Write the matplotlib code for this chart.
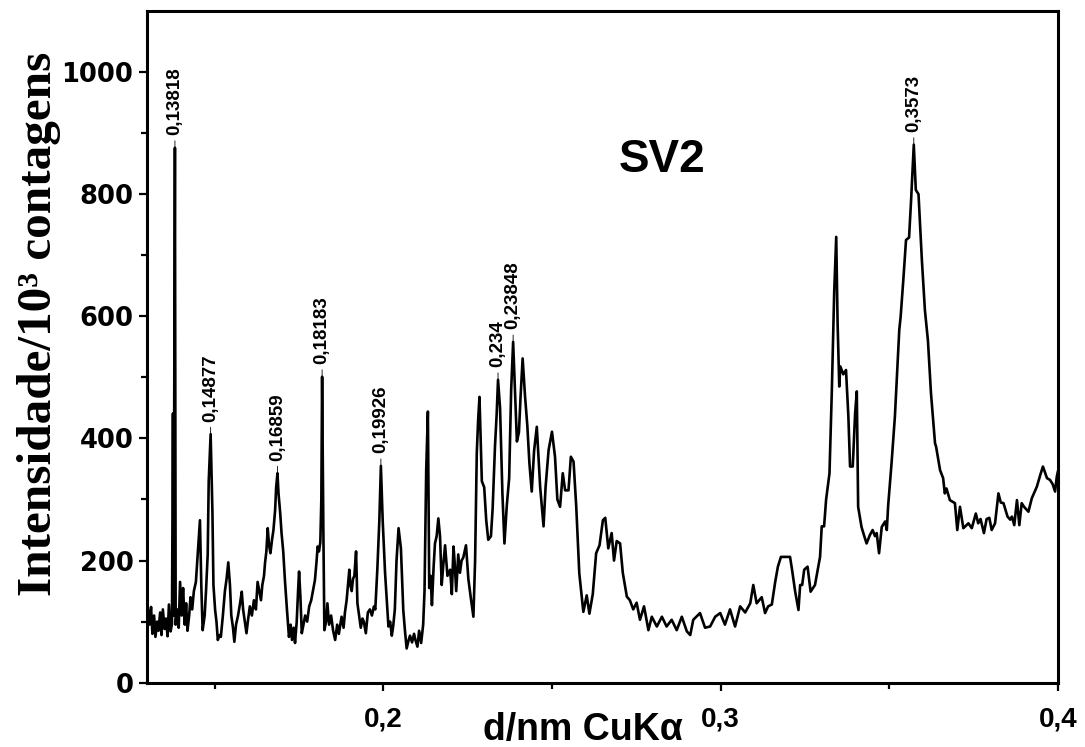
import matplotlib
matplotlib.use('Agg')
import matplotlib.pyplot as plt
import matplotlib.ticker as ticker
import numpy as np

# interplanar spacing (nm) and intensity (10^3 counts)
d_nm = [0.1302, 0.1306, 0.1311, 0.1315, 0.1320, 0.1324, 0.1329, 0.1333, 0.1338, 0.1342,
        0.1346, 0.1351, 0.1355, 0.1360, 0.1364, 0.1369, 0.1373, 0.1376, 0.1378, 0.13818,
        0.1384, 0.1388, 0.1393, 0.1397, 0.1402, 0.1406, 0.1411, 0.1415, 0.1419, 0.1424,
        0.1428, 0.1433, 0.1438, 0.1444, 0.1450, 0.1456, 0.1460, 0.1464, 0.1470, 0.1474,
        0.1479, 0.1482, 0.14877, 0.1493, 0.1496, 0.1501, 0.1505, 0.1509, 0.1514, 0.1518,
        0.1524, 0.1530, 0.1535, 0.1540, 0.1545, 0.1549, 0.1554, 0.1558, 0.1563, 0.1569,
        0.1575, 0.1580, 0.1584, 0.1589, 0.1594, 0.1598, 0.1604, 0.1610, 0.1616, 0.1622,
        0.1627, 0.1632, 0.1637, 0.1641, 0.1646, 0.1649, 0.1653, 0.1657, 0.1661, 0.1665,
        0.1670, 0.1674, 0.1679, 0.1682, 0.16859, 0.1689, 0.1694, 0.1698, 0.1703, 0.1708,
        0.1714, 0.1720, 0.1725, 0.1729, 0.1734, 0.1738, 0.1743, 0.1747, 0.1750, 0.1754,
        0.1758, 0.1763, 0.1768, 0.1774, 0.1780, 0.1786, 0.1791, 0.1797, 0.1802, 0.1805,
        0.1809, 0.1813, 0.1816, 0.18183, 0.1822, 0.1825, 0.1830, 0.1834, 0.1839, 0.1845,
        0.1851, 0.1857, 0.1863, 0.1868, 0.1876, 0.1882, 0.1886, 0.1891, 0.1895, 0.1899,
        0.1902, 0.1906, 0.1910, 0.1914, 0.1919, 0.1923, 0.1928, 0.1933, 0.1938, 0.1942,
        0.1948, 0.1954, 0.1960, 0.1966, 0.1972, 0.1976, 0.1982, 0.1988, 0.19926, 0.1998,
        0.2005, 0.2015, 0.2020, 0.2025, 0.2029, 0.2034, 0.2039, 0.2045, 0.2052, 0.2059,
        0.2064, 0.2069, 0.2075, 0.2079, 0.2085, 0.2091, 0.2095, 0.2101, 0.2106, 0.2112,
        0.2118, 0.2122, 0.2127, 0.2132, 0.2136, 0.2140, 0.2144, 0.2149, 0.2153, 0.2158,
        0.2163, 0.2168, 0.2173, 0.2178, 0.2183, 0.2190, 0.2198, 0.2203, 0.2208, 0.2211,
        0.2216, 0.2222, 0.2227, 0.2232, 0.2237, 0.2245, 0.2252, 0.2259, 0.2267, 0.2272,
        0.2277, 0.2281, 0.2285, 0.2292, 0.2299, 0.2305, 0.2311, 0.2319, 0.2324, 0.2331,
        0.2336, 0.234, 0.2346, 0.2353, 0.2359, 0.2366, 0.2373, 0.2379, 0.23848, 0.2391,
        0.2396, 0.2402, 0.2407, 0.2413, 0.2420, 0.2427, 0.2433, 0.2440, 0.2447, 0.2455,
        0.2465, 0.2475, 0.2481, 0.2490, 0.2500, 0.2509, 0.2516, 0.2524, 0.2532, 0.2539,
        0.2549, 0.2556, 0.2564, 0.2572, 0.2581, 0.2593, 0.2603, 0.2611, 0.2621, 0.2631,
        0.2641, 0.2651, 0.2658, 0.2667, 0.2677, 0.2684, 0.2692, 0.2702, 0.2710, 0.2722,
        0.2731, 0.2741, 0.2751, 0.2761, 0.2773, 0.2786, 0.2796, 0.2811, 0.2826, 0.2840,
        0.2855, 0.2870, 0.2885, 0.2900, 0.2910, 0.2919, 0.2939, 0.2954, 0.2969, 0.2984,
        0.2999, 0.3013, 0.3028, 0.3043, 0.3058, 0.3073, 0.3088, 0.3097, 0.3107, 0.3122,
        0.3132, 0.3141, 0.3152, 0.3162, 0.3170, 0.3179, 0.3196, 0.3206, 0.3212, 0.3221,
        0.3231, 0.3236, 0.3242, 0.3248, 0.3258, 0.3267, 0.3280, 0.3295, 0.3300, 0.3307,
        0.3313, 0.3323, 0.3330, 0.3337, 0.3343, 0.3347, 0.3352, 0.3355, 0.3364, 0.3372,
        0.3379, 0.3384, 0.3392, 0.3399, 0.3404, 0.3408, 0.3418, 0.3425, 0.3433, 0.3443,
        0.3451, 0.3458, 0.3463, 0.3470, 0.3478, 0.3488, 0.3493, 0.3497, 0.3507, 0.3517,
        0.3524, 0.3530, 0.3534, 0.3542, 0.3550, 0.3559, 0.3565, 0.3573, 0.3579, 0.3587,
        0.3597, 0.3606, 0.3615, 0.3624, 0.3636, 0.3639, 0.3651, 0.3660, 0.3665, 0.3670,
        0.3680, 0.3695, 0.3702, 0.3710, 0.3720, 0.3735, 0.3745, 0.3757, 0.3764, 0.3771,
        0.3781, 0.3789, 0.3797, 0.3804, 0.3814, 0.3824, 0.3831, 0.3839, 0.3851, 0.3859,
        0.3864, 0.3871, 0.3879, 0.3886, 0.3893, 0.3900, 0.3913, 0.3923, 0.3938, 0.3948,
        0.3956, 0.3968, 0.3977, 0.3985, 0.3992, 0.3997, 0.4000]

counts = [118, 95, 124, 80, 110, 75, 100, 85, 115, 78,
          120, 88, 105, 76, 128, 84, 96, 441, 110, 876,
          95, 120, 90, 165, 110, 155, 95, 130, 85, 110,
          140, 120, 150, 165, 215, 266, 160, 86, 110, 150,
          210, 330, 407, 280, 160, 119, 100, 70, 78, 75,
          110, 150, 170, 197, 160, 110, 90, 67, 95, 110,
          130, 149, 120, 100, 81, 100, 125, 110, 135, 120,
          165, 150, 135, 160, 175, 196, 215, 253, 225, 212,
          235, 250, 283, 320, 343, 310, 278, 245, 215, 168,
          120, 75, 95, 70, 90, 65, 100, 150, 182, 140,
          81, 95, 110, 100, 125, 135, 150, 168, 200, 223,
          215, 230, 300, 501, 250, 86, 100, 130, 95, 110,
          85, 70, 95, 80, 108, 90, 115, 135, 160, 185,
          160, 150, 170, 175, 215, 130, 110, 90, 105, 100,
          81, 115, 120, 110, 125, 120, 185, 265, 355, 265,
          180, 92, 100, 77, 92, 120, 200, 253, 220, 119,
          85, 56, 70, 77, 66, 80, 70, 59, 85, 65,
          95, 150, 348, 444, 155, 175, 127, 190, 228, 240,
          269, 240, 160, 195, 225, 175, 185, 145, 223, 200,
          150, 210, 180, 200, 205, 225, 170, 140, 108, 200,
          376, 430, 468, 330, 320, 266, 234, 240, 285, 387,
          440, 496, 450, 310, 228, 290, 335, 480, 558, 470,
          395, 410, 470, 531, 470, 420, 360, 313, 380, 419,
          320, 256, 320, 381, 411, 370, 300, 288, 343, 315,
          315, 370, 362, 288, 179, 116, 143, 113, 145, 212,
          225, 266, 270, 220, 245, 200, 232, 228, 180, 141,
          135, 120, 131, 103, 125, 86, 108, 92, 108, 92,
          103, 86, 108, 84, 78, 103, 114, 90, 92, 108,
          114, 95, 120, 92, 125, 115, 130, 160, 130, 140,
          114, 125, 128, 165, 190, 206, 206, 206, 185, 150,
          119, 160, 160, 185, 190, 149, 160, 206, 256, 256,
          300, 343, 479, 640, 730, 590, 485, 518, 505, 512,
          436, 354, 354, 441, 477, 288, 255, 242, 228, 242,
          250, 240, 245, 212, 255, 264, 250, 290, 359, 436,
          512, 578, 599, 660, 725, 729, 790, 881, 807, 800,
          692, 610, 560, 474, 392, 387, 348, 335, 310, 318,
          299, 294, 250, 288, 253, 261, 253, 277, 261, 268,
          245, 268, 270, 250, 261, 310, 295, 294, 272, 267,
          272, 258, 299, 258, 294, 288, 280, 302, 321, 340,
          354, 335, 332, 325, 313, 337, 345]

peak_d = [0.13818, 0.14877, 0.16859, 0.18183, 0.19926, 0.234, 0.23848, 0.3573]
peak_labels = ['0,13818', '0,14877', '0,16859', '0,18183', '0,19926', '0,234', '0,23848', '0,3573']
sample = 'SV2'

d_nm = np.array(d_nm)
counts = np.array(counts)

fig = plt.figure(figsize=(10.85, 7.47), dpi=100)
ax = fig.add_axes([0.1358, 0.0861, 0.8391, 0.8992])

ax.plot(d_nm, counts, color='black', lw=1.9)

# peak labels, rotated, sitting just above each maximum
for p, txt in zip(peak_d, peak_labels):
    i = np.argmin(np.abs(d_nm - p))
    ax.annotate('', xy=(p, counts[i]), xytext=(0, 5), textcoords='offset points',
                arrowprops=dict(arrowstyle='-', lw=0.6, color='black', shrinkA=0, shrinkB=0))
    ax.annotate(txt, xy=(p, counts[i]), xytext=(0, 9), textcoords='offset points',
                rotation=90, ha='center', va='bottom', fontsize=13.5, fontweight='bold',
                family='Liberation Sans')

ax.text(0.565, 0.778, sample, transform=ax.transAxes, ha='center', va='center',
        fontsize=33, fontweight='bold', family='Liberation Sans')

ax.set_xlim(0.13, 0.4)
ax.set_ylim(0, 1100)
ax.xaxis.set_major_locator(ticker.MultipleLocator(0.1))
ax.xaxis.set_minor_locator(ticker.MultipleLocator(0.05))
ax.yaxis.set_major_locator(ticker.FixedLocator([0, 200, 400, 600, 800, 1000]))
ax.yaxis.set_minor_locator(ticker.FixedLocator([100, 300, 500, 700, 900]))
ax.xaxis.set_major_formatter(ticker.FuncFormatter(lambda v, pos: ('%g' % v).replace('.', ',')))

ax.tick_params(which='major', direction='out', length=6, width=1.6)
ax.tick_params(which='minor', direction='out', length=4, width=1.6)
ax.tick_params(axis='x', which='major', pad=11)
ax.tick_params(axis='y', which='major', pad=4)
for lab in ax.get_yticklabels():
    lab.set_fontfamily('DejaVu Sans')
    lab.set_fontweight('bold')
    lab.set_fontsize(18.5)
for lab in ax.get_xticklabels():
    lab.set_fontfamily('Liberation Sans')
    lab.set_fontweight('bold')
    lab.set_fontsize(20)

for s in ax.spines.values():
    s.set_linewidth(2.2)

ax.set_xlabel('d/nm CuK\u03b1', fontsize=27, fontweight='bold', family='Liberation Sans', va='center')
ax.xaxis.set_label_coords(0.479, -0.07)
ax.set_ylabel('Intensidade/10\u00b3 contagens', fontsize=35.5, fontweight='bold',
              family='Liberation Serif', va='center')
ax.yaxis.set_label_coords(-0.119, 0.534)

fig.savefig('out.png', dpi=100)
